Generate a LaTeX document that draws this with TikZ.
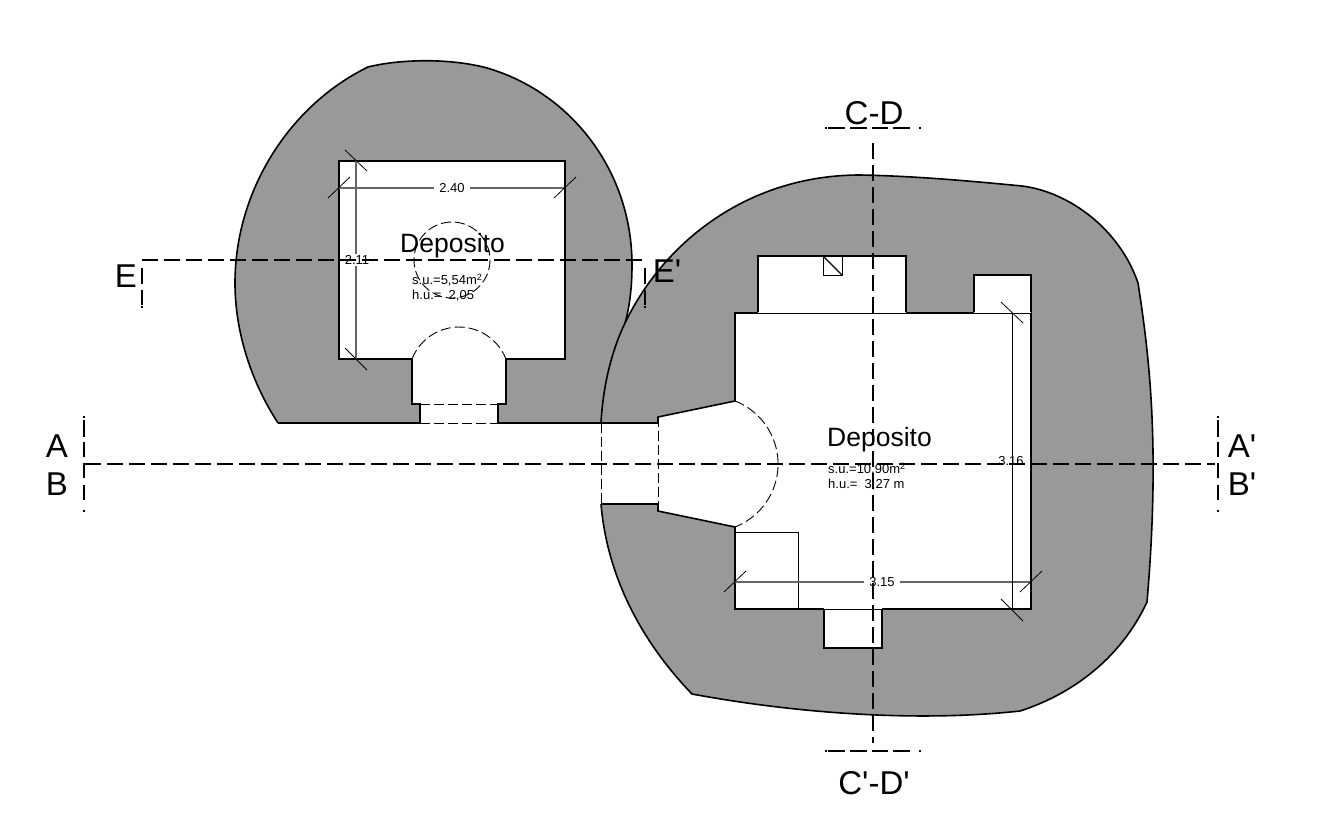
\documentclass[tikz,border=0pt]{standalone}
\usepackage{fontspec}
\setmainfont{Liberation Sans}
\definecolor{wallgray}{HTML}{999999}
\definecolor{dimgray}{HTML}{666666}

\newcommand{\leftmass}{(278,423) .. controls (250,380) and (235,330) .. (235,283)
  .. controls (235,190) and (290,105) .. (368,67)
  .. controls (400,59) and (450,58) .. (487,68)
  .. controls (570,92) and (632,170) .. (632,265)
  .. controls (632,290) and (629,310) .. (624,327)}
\newcommand{\rightmass}{(601,423) .. controls (603,385) and (612,350) .. (625,323)
  .. controls (665,240) and (750,175) .. (860,175)
  .. controls (915,176) and (970,181) .. (1022,186)
  .. controls (1070,192) and (1120,230) .. (1138,283)
  .. controls (1150,360) and (1160,450) .. (1147,602)
  .. controls (1120,660) and (1070,695) .. (1020,711)
  .. controls (920,722) and (800,714) .. (692,694)
  .. controls (640,640) and (607,575) .. (601,504)}
\newcommand{\largeroom}{(601,423) -- (658,423) -- (658,417) -- (735,401) -- (735,313) -- (758,313) -- (758,256)
  -- (906,256) -- (906,313) -- (974,313) -- (974,275) -- (1031,275) -- (1031,609) -- (882,609)
  -- (882,648) -- (824,648) -- (824,609) -- (735,609) -- (735,527) -- (658,511) -- (658,504)
  -- (601,504)}

\begin{document}
\begin{tikzpicture}[x=1pt, y=1pt, yscale=-1,
  outline/.style={line width=1.6pt, line join=miter},
  hidden/.style={line width=0.9pt, dash pattern=on 10pt off 4pt},
  cutline/.style={line width=2.2pt, dash pattern=on 16pt off 6pt},
  cutab/.style={line width=1.5pt, dash pattern=on 1.5pt off 2.5pt on 17pt off 5pt on 15pt off 6pt on 15pt off 7pt on 15pt off 10pt on 2pt off 100pt},
  cute/.style={line width=1.5pt, dash pattern=on 0pt off 8pt on 16pt off 6pt on 15pt off 1pt on 2pt off 100pt},
  cutcd/.style={line width=1.6pt, dash pattern=on 2pt off 1pt on 17pt off 5pt on 17pt off 5pt on 16pt off 5pt on 17pt off 9pt on 2pt off 100pt},
  dimline/.style={line width=1.1pt, draw=dimgray},
  dimtick/.style={line width=0.8pt},
  dimtext/.style={fill=white, font=\fontsize{13}{15}\selectfont, inner xsep=5pt, inner ysep=1pt},
  roomtext/.style={font=\fontsize{26.5}{28}\selectfont, inner sep=0pt},
  areatext/.style={font=\fontsize{13}{15}\selectfont, align=left, anchor=west, inner sep=0pt},
  cutlabel/.style={font=\fontsize{33}{36}\selectfont, inner sep=0pt}]

\useasboundingbox[fill=white] (0,0) rectangle (1335,832);

% grey masses
\fill[wallgray] \leftmass -- (640,423) -- cycle;
\draw[outline] \leftmass;
\fill[wallgray] \rightmass -- cycle;
\draw[outline] \rightmass;

% small room
\fill[white] (339,161) rectangle (565,359);
\fill[white] (412,359) arc[start angle=-158.5, end angle=-21.5, radius=50.5]
  -- (506,404) -- (498,404) -- (498,423) -- (420,423) -- (420,404) -- (412,404) -- cycle;
\draw[outline] (412,359) -- (339,359) -- (339,161) -- (565,161) -- (565,359) -- (506,359)
  -- (506,404) -- (498,404) -- (498,423) -- (601,423);
\draw[outline] (412,359) -- (412,404) -- (420,404) -- (420,423) -- (278,423);
\draw[hidden] (412,359) arc[start angle=-158.5, end angle=-21.5, radius=50.5];
\draw[hidden] (420,404) -- (498,404);
\draw[hidden] (420,423) -- (498,423);
\draw[hidden] (452,260) circle[radius=38];

% large room
\fill[white] \largeroom -- cycle;
\fill[white] (735,401) arc[start angle=-68.7, end angle=68.7, radius=67.6] -- cycle;
\draw[outline] \largeroom;
\draw[white, line width=1.8pt] (758,313) -- (906,313);
\draw[line width=0.9pt] (758,313) -- (906,313);
\draw[white, line width=1.8pt] (974,313) -- (1031,313);
\draw[line width=0.9pt] (974,313) -- (1031,313);
\draw[white, line width=1.8pt] (824,609) -- (882,609);
\draw[line width=0.9pt] (824,609) -- (882,609);
\draw[hidden] (735,401) arc[start angle=-68.7, end angle=68.7, radius=67.6];
\draw[hidden] (658,417) -- (658,511);
\draw[hidden] (601,423) -- (601,504);
\draw[line width=0.9pt] (735,532) -- (798,532) -- (798,609);
\draw[line width=1pt] (823,256) rectangle (842,275);
\draw[line width=1.3pt] (823,256) -- (842,275);

% dimensions
\draw[dimline] (339,188) -- (565,188);
\draw[dimline] (356,161) -- (356,359);
\draw[dimline] (735,582) -- (1031,582);
\draw[line width=0.9pt] (1012,313) -- (1012,609);
\draw[dimtick] (328,198) -- (350,177);
\draw[dimtick] (554,198) -- (576,177);
\draw[dimtick] (345,150) -- (367,171);
\draw[dimtick] (345,348) -- (367,370);
\draw[dimtick] (724,592) -- (746,571);
\draw[dimtick] (1020,592) -- (1042,571);
\draw[dimtick] (1001,302) -- (1023,323);
\draw[dimtick] (1001,599) -- (1023,621);

\node[dimtext] (dimw1) at (452,188) {2.40};
\node[dimtext, inner xsep=0pt] (dimh1) at (357,260) {2.11};
\node[dimtext] (dimw2) at (882,582) {3.15};
\node[dimtext, fill=none, inner xsep=0pt] (dimh2) at (1011,461) {3.16};

\node[roomtext] (room1) at (452.5,246) {Deposito};
\node[areatext] (area1) at (412,287.5) {s.u.=5,54m\textsuperscript{2}\\h.u.=\ \ 2,05};
\node[roomtext] (room2) at (879.5,440) {Deposito};
\node[areatext] (area2) at (828,476.5) {s.u.=10,90m\textsuperscript{2}\\h.u.=\ \ 3,27 m};

% cut lines
\coordinate (ab1) at (85,464);
\coordinate (ab2) at (1215,464);
\coordinate (abt1) at (84,416);
\coordinate (abb1) at (84,513);
\coordinate (abt2) at (1218,416);
\coordinate (abb2) at (1218,513);
\coordinate (e1) at (142,260);
\coordinate (e2) at (645,260);
\coordinate (eb1) at (142,309);
\coordinate (eb2) at (645,309);
\coordinate (cd1) at (873,143);
\coordinate (cd2) at (873,743);
\coordinate (cl1) at (825,128);
\coordinate (cr1) at (921,128);
\coordinate (cl2) at (825,751);
\coordinate (cr2) at (921,751);

\draw[cutline] (ab1) -- (ab2);
\draw[cutline] (e1) -- (e2);
\draw[cutline] (cd1) -- (cd2);
\draw[cutab] (abt1) -- (abb1);
\draw[cutab] (abt2) -- (abb2);
\draw[cute] (e1) -- (eb1);
\draw[cute] (e2) -- (eb2);
\draw[cutcd] (cl1) -- (cr1);
\draw[cutcd] (cl2) -- (cr2);

\node[cutlabel] (la) at (57,446) {A};
\node[cutlabel] (lb) at (57,484) {B};
\node[cutlabel] (laa) at (1242,446) {A\textquotesingle};
\node[cutlabel] (lbb) at (1242,484) {B\textquotesingle};
\node[cutlabel] (le) at (126,276) {E};
\node[cutlabel] (lee) at (667,271) {E\textquotesingle};
\node[cutlabel] (lcd) at (874,113) {C-D};
\node[cutlabel] (lccdd) at (874,783) {C\textquotesingle-D\textquotesingle};

\end{tikzpicture}
\end{document}
